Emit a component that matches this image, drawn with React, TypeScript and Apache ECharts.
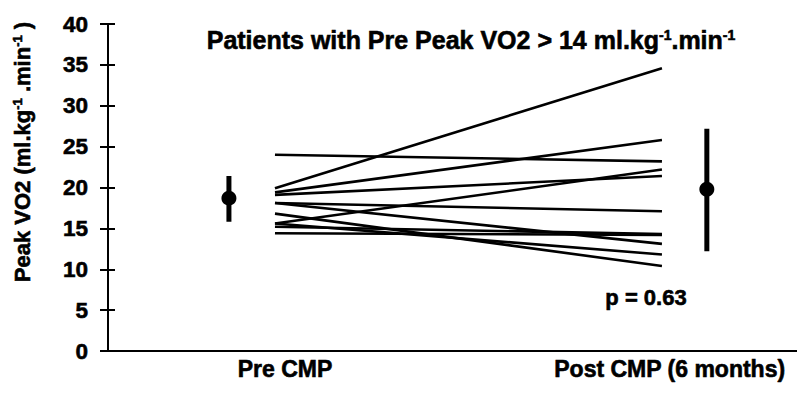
import React, { useEffect, useRef } from "react";
import * as echarts from "echarts";

const categories = ["Pre CMP", "Post CMP (6 months)"];
const preValues = [24.0, 19.9, 19.4, 19.1, 15.6, 18.1, 18.1, 16.8, 15.6, 15.2, 14.4];
const postValues = [23.2, 34.6, 25.8, 21.4, 22.2, 17.1, 13.1, 10.4, 11.8, 14.3, 14.2];
const summaryMean = [18.7, 19.8];
const summaryLow = [15.8, 12.2];
const summaryHigh = [21.4, 27.2];
const yMin = 0;
const yMax = 40;
const yInterval = 5;
const titleText = "Patients with Pre Peak VO2 > 14 ml.kg{sup|-1}.min{sup|-1}";
const yNameText = "Peak VO2 (ml.kg{sup|-1} .min{sup|-1} )";
const pValueText = "p = 0.63";

// layout positions on the x value axis (categories at 1 and 2)
const catX = [1, 2];
const summaryX = [0.881, 2.116];
const labelX = [1.026, 2.02];

const FONT = "'Liberation Sans', Arial, Helvetica, sans-serif";
const BOLDER = { textBorderColor: "#000", textBorderWidth: 0.6 };

export default function App() {
  const ref = useRef<HTMLDivElement>(null);
  useEffect(() => {
    document.body.style.margin = "0";
    if (!ref.current) return;
    const chart = echarts.init(ref.current, undefined, { renderer: "svg" });
    const patientSeries = preValues.map((pre, i) => ({
      type: "line",
      data: [
        [catX[0], pre],
        [catX[1], postValues[i]],
      ],
      symbol: "none",
      silent: true,
      lineStyle: { color: "#000", width: 2.6 },
    }));
    const barSeries = summaryMean.map((_, i) => ({
      type: "line",
      data: [
        [summaryX[i], summaryLow[i]],
        [summaryX[i], summaryHigh[i]],
      ],
      symbol: "none",
      silent: true,
      lineStyle: { color: "#000", width: 5, cap: "butt" },
    }));
    const sup = { fontSize: 13, fontWeight: "bold", fontFamily: FONT, fill: "#000", verticalAlign: "top" };
    const option = {
      animation: false,
      grid: { left: 108, right: 0, top: 24, bottom: 44, containLabel: false },
      xAxis: {
        type: "value",
        min: 0.5685,
        max: 2.349,
        splitLine: { show: false },
        axisTick: { show: false },
        axisLine: { show: true, lineStyle: { color: "#000", width: 2 } },
        axisLabel: {
          customValues: labelX,
          formatter: (v: number) => (v < 1.5 ? categories[0] : categories[1]),
          fontSize: 23,
          fontWeight: "bold",
          fontFamily: FONT,
          color: "#000",
          margin: 6,
          ...BOLDER,
        },
      },
      yAxis: [
        {
          type: "value",
          min: yMin,
          max: yMax,
          interval: yInterval,
          splitLine: { show: false },
          axisLine: { show: true, lineStyle: { color: "#000", width: 2 } },
          axisTick: { show: true, length: 8, lineStyle: { color: "#000", width: 2 } },
          axisLabel: {
            fontSize: 22.5,
            fontWeight: "bold",
            fontFamily: FONT,
            color: "#000",
            margin: 20,
            padding: [0, 0, 6, 0],
            ...BOLDER,
          },
        },
        {
          type: "value",
          min: yMin,
          max: yMax,
          interval: yInterval,
          position: "left",
          splitLine: { show: false },
          axisLine: { show: false },
          axisTick: { show: true, inside: true, length: 7, lineStyle: { color: "#000", width: 2 } },
          axisLabel: { show: false },
        },
      ],
      series: [
        ...patientSeries,
        ...barSeries,
        {
          type: "scatter",
          data: summaryMean.map((m, i) => [summaryX[i], m]),
          symbol: "circle",
          symbolSize: 15,
          silent: true,
          itemStyle: { color: "#000", opacity: 1 },
        },
      ],
      graphic: [
        {
          type: "text",
          x: 471,
          y: 40,
          style: {
            text: titleText,
            fontSize: 25,
            fontWeight: "bold",
            fontFamily: FONT,
            fill: "#000",
            align: "center",
            verticalAlign: "middle",
            stroke: "#000",
            lineWidth: 0.6,
            rich: { sup: { ...sup, fontSize: 14 } },
          },
        },
        {
          type: "text",
          x: 22,
          y: 152,
          rotation: Math.PI / 2,
          style: {
            text: yNameText,
            fontSize: 22,
            fontWeight: "bold",
            fontFamily: FONT,
            fill: "#000",
            align: "center",
            verticalAlign: "middle",
            stroke: "#000",
            lineWidth: 0.6,
            rich: { sup },
          },
        },
        {
          type: "text",
          x: 646,
          y: 297,
          style: {
            text: pValueText,
            fontSize: 22,
            fontWeight: "bold",
            fontFamily: FONT,
            fill: "#000",
            align: "center",
            verticalAlign: "middle",
            stroke: "#000",
            lineWidth: 0.6,
          },
        },
      ],
    };
    chart.setOption(option as any);
    return () => chart.dispose();
  }, []);
  return <div ref={ref} style={{ width: 797, height: 395 }} />;
}
